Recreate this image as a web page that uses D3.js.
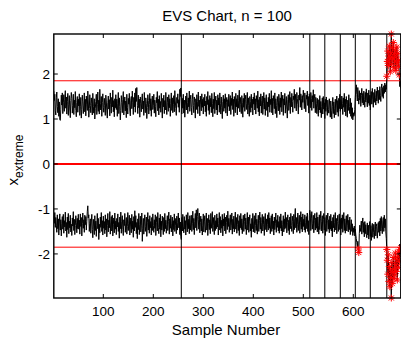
<!DOCTYPE html>
<html>
<head>
<meta charset="utf-8">
<script src="https://cdn.jsdelivr.net/npm/d3@7"></script>
<style>
  body { margin: 0; background: #fff; }
  text { font-family: "Liberation Sans", Arial, sans-serif; fill: #000; }
</style>
</head>
<body>
<script>
// Upper extreme per sample (sample number = index + 1)
const upperExtreme = [
  1.62, 1.41, 1.55, 1.18, 1.09, 1.47, 1.60, 1.28, 1.14, 1.45, 1.06, 1.38, 0.99, 0.97, 1.22, 1.53, 1.31, 1.58, 1.12, 1.36, 1.54, 1.17, 1.43, 1.63, 1.24,
  1.49, 1.11, 1.39, 1.57, 1.08, 1.33, 1.52, 1.20, 1.03, 1.41, 1.59, 1.46, 1.13, 1.30, 1.55, 1.10, 1.42, 1.25, 1.61, 1.19, 1.05, 1.37, 1.50, 1.15, 1.44,
  1.29, 1.56, 1.08, 1.27, 1.48, 1.02, 1.21, 1.53, 1.38, 1.12, 1.31, 1.58, 1.16, 1.44, 1.07, 1.51, 1.33, 1.19, 1.62, 1.40, 1.04, 1.23, 1.54, 1.30, 1.14,
  1.47, 1.35, 1.09, 1.57, 1.28, 1.13, 1.45, 1.00, 1.24, 1.39, 1.55, 1.10, 1.32, 1.60, 1.17, 1.42, 1.11, 1.66, 1.34, 1.20, 1.50, 1.06, 1.37, 1.56, 1.26,
  1.15, 1.46, 1.30, 1.08, 1.53, 1.40, 1.18, 1.02, 1.36, 1.51, 1.22, 1.43, 1.07, 1.58, 1.32, 1.13, 1.48, 1.27, 1.64, 1.16, 1.41, 1.05, 1.45, 1.25, 1.54,
  1.21, 1.44, 1.06, 1.35, 1.59, 1.12, 1.47, 1.28, 0.98, 1.19, 1.52, 1.37, 1.14, 1.43, 1.61, 1.09, 1.31, 1.49, 1.18, 1.40, 1.03, 1.55, 1.26, 1.11, 1.46,
  1.33, 1.57, 1.20, 1.07, 1.42, 1.50, 1.23, 1.62, 1.36, 1.10, 1.48, 1.27, 1.58, 1.15, 1.68, 1.39, 1.70, 1.30, 1.12, 1.53, 1.25, 1.44, 1.04, 1.49, 1.34,
  1.16, 1.43, 1.56, 1.22, 1.40, 1.08, 1.59, 1.29, 1.14, 1.47, 1.35, 1.01, 1.26, 1.54, 1.41, 1.11, 1.32, 1.57, 1.19, 1.45, 1.06, 1.38, 1.51, 1.21, 1.30,
  1.55, 1.13, 1.42, 1.28, 1.05, 1.48, 1.36, 1.61, 1.18, 1.44, 1.09, 1.52, 1.24, 1.39, 1.15, 1.57, 1.31, 1.02, 1.46, 1.27, 1.53, 1.12, 1.41, 1.20, 1.59,
  1.29, 1.10, 1.49, 1.37, 1.17, 1.54, 1.25, 1.45, 1.06, 1.34, 1.58, 1.19, 1.47, 1.14, 1.32, 1.52, 1.16, 1.63, 1.40, 1.23, 1.08, 1.48, 1.35, 1.56, 1.26,
  1.43, 1.15, 1.66, 1.50, 1.69, 1.38, 1.11, 1.46, 1.24, 1.55, 1.13, 1.42, 1.04, 1.31, 1.51, 1.20, 1.58, 1.36, 1.12, 1.47, 1.27, 1.62, 1.17, 1.43, 1.53,
  1.25, 1.09, 1.44, 1.57, 1.30, 1.14, 1.49, 1.37, 1.02, 1.45, 1.21, 1.54, 1.39, 1.12, 1.60, 1.28, 1.42, 1.07, 1.51, 1.33, 1.18, 1.56, 1.26, 1.44, 1.11,
  1.48, 1.29, 1.55, 1.16, 1.40, 1.06, 1.50, 1.32, 1.61, 1.19, 1.43, 1.10, 1.52, 1.27, 1.46, 1.14, 1.57, 1.35, 1.05, 1.44, 1.23, 1.59, 1.12, 1.38, 1.51,
  1.20, 1.42, 1.09, 1.54, 1.31, 1.47, 1.15, 1.58, 1.34, 1.11, 1.49, 1.26, 1.01, 1.39, 1.53, 1.17, 1.45, 1.24, 1.56, 1.13, 1.37, 1.48, 1.07, 1.43, 1.28,
  1.55, 1.18, 1.40, 1.52, 1.10, 1.46, 1.30, 1.60, 1.21, 1.44, 1.06, 1.50, 1.33, 1.14, 1.57, 1.27, 1.45, 1.09, 1.53, 1.24, 1.41, 1.64, 1.16, 1.48, 1.32,
  1.12, 1.52, 1.36, 1.04, 1.46, 1.26, 1.57, 1.17, 1.43, 1.53, 1.21, 1.34, 1.59, 1.11, 1.47, 1.30, 1.06, 1.50, 1.39, 1.15, 1.55, 1.25, 1.44, 1.09, 1.49,
  1.33, 1.58, 1.20, 1.45, 1.11, 1.52, 1.37, 1.24, 1.62, 1.16, 1.43, 1.07, 1.49, 1.29, 1.56, 1.13, 1.41, 1.51, 1.10, 1.35, 1.59, 1.22, 1.47, 1.08, 1.42,
  1.54, 1.19, 1.38, 1.05, 1.48, 1.27, 1.57, 1.15, 1.44, 1.32, 1.63, 1.14, 1.46, 1.09, 1.52, 1.39, 1.23, 1.58, 1.12, 1.45, 1.30, 1.03, 1.50, 1.36, 1.18,
  1.55, 1.42, 1.10, 1.47, 1.26, 1.60, 1.16, 1.40, 1.53, 1.08, 1.45, 1.31, 1.57, 1.13, 1.38, 1.50, 1.22, 1.02, 1.43, 1.54, 1.19, 1.35, 1.61, 1.12, 1.48,
  1.27, 1.57, 1.39, 1.15, 1.51, 1.43, 1.66, 1.24, 1.55, 1.40, 1.18, 1.59, 1.46, 1.33, 1.11, 1.53, 1.42, 1.70, 1.26, 1.56, 1.45, 1.20, 1.52, 1.37, 1.64,
  1.47, 1.23, 1.58, 1.40, 1.16, 1.53, 1.44, 1.62, 1.30, 1.50, 1.13, 1.56, 1.42, 1.25, 1.59, 1.46, 1.19, 1.52, 1.38, 1.65, 1.24, 1.45, 1.55, 1.14, 1.48,
  1.34, 1.12, 1.46, 1.25, 1.06, 1.43, 1.20, 1.52, 1.14, 1.39, 1.03, 1.28, 1.47, 1.11, 1.50, 1.22, 1.36, 1.01, 1.44, 1.17, 1.49, 1.26, 1.08, 1.42, 1.21,
  1.13, 1.45, 1.29, 1.04, 1.40, 1.18, 1.00, 1.27, 1.48, 1.12, 1.38, 1.03, 1.24, 1.44, 1.09, 1.31, 1.51, 1.15, 1.41, 1.06, 1.46, 1.23, 1.55, 1.17, 1.43,
  1.22, 1.51, 1.35, 1.10, 1.47, 1.26, 1.57, 1.16, 1.44, 1.07, 1.50, 1.32, 1.04, 1.42, 1.19, 1.54, 1.28, 1.12, 1.46, 1.06, 1.36, 1.01, 1.25, 0.98, 1.14,
  1.06, 1.09, 1.21, 1.48, 1.66, 1.76, 1.55, 1.40, 1.70, 1.48, 1.33, 1.63, 1.42, 1.58, 1.28, 1.52, 1.68, 1.36, 1.57, 1.31, 1.62, 1.43, 1.26, 1.59, 1.38,
  1.67, 1.41, 1.27, 1.58, 1.35, 1.64, 1.30, 1.53, 1.20, 1.45, 1.61, 1.33, 1.68, 1.44, 1.26, 1.59, 1.37, 1.66, 1.47, 1.31, 1.62, 1.40, 1.71, 1.49, 1.35,
  1.64, 1.43, 1.72, 1.52, 1.39, 1.68, 1.78, 1.50, 1.70, 1.46, 1.74, 1.57, 1.80, 1.60, 1.76, 1.66,
  1.95, 2.28, 2.51, 2.19, 2.40, 2.62, 2.33, 2.05, 2.47, 2.89, 2.22, 2.58, 2.36, 2.70, 2.14, 2.44, 2.29, 2.53, 2.08, 2.38, 2.60, 2.25, 2.46, 2.17, 2.31, 1.98,
  1.72, 1.84, 1.68
];

// Lower extreme per sample
const lowerExtreme = [
  -1.16, -1.32, -1.08, -1.41, -1.19, -1.36, -1.52, -1.13, -1.44, -1.22, -1.58, -1.29, -1.11, -1.47, -1.24, -1.60, -1.33, -1.17, -1.45, -1.12, -1.54, -1.26, -1.40, -1.07, -1.49,
  -1.30, -1.63, -1.18, -1.46, -1.10, -1.55, -1.27, -1.42, -1.14, -1.51, -1.34, -1.59, -1.20, -1.38, -1.06, -1.48, -1.23, -1.57, -1.37, -1.15, -1.31, -1.53, -1.21, -1.44, -1.12,
  -1.45, -1.25, -1.56, -1.11, -1.39, -1.19, -1.60, -1.33, -1.09, -1.43, -1.24, -1.52, -1.14, -1.35, -1.17, -1.47, -1.28, -1.05, -0.93, -1.20, -1.13, -1.50, -1.32, -1.22, -1.54,
  -1.29, -1.12, -1.46, -1.64, -1.23, -1.38, -1.57, -1.15, -1.48, -1.27, -1.61, -1.36, -1.10, -1.44, -1.21, -1.68, -1.34, -1.53, -1.18, -1.41, -1.08, -1.50, -1.26, -1.58, -1.16,
  -1.43, -1.28, -1.55, -1.13, -1.47, -1.22, -1.62, -1.37, -1.10, -1.51, -1.25, -1.42, -1.06, -1.56, -1.31, -1.17, -1.49, -1.14, -1.60, -1.35, -1.20, -1.53, -1.09, -1.45, -1.27,
  -1.57, -1.21, -1.40, -1.11, -1.50, -1.30, -1.65, -1.18, -1.44, -1.07, -1.54, -1.28, -1.15, -1.46, -1.59, -1.24, -1.37, -1.10, -1.52, -1.33, -1.19, -1.56, -1.39, -1.08, -1.48,
  -1.32, -1.14, -1.58, -1.38, -1.20, -1.53, -1.12, -1.45, -1.27, -1.63, -1.17, -1.49, -1.04, -1.41, -1.15, -1.55, -1.30, -1.66, -1.22, -1.46, -1.10, -1.57, -1.35, -1.16, -1.51,
  -1.36, -1.09, -1.72, -1.44, -1.21, -1.56, -1.29, -1.13, -1.50, -1.39, -1.18, -1.61, -1.31, -1.08, -1.47, -1.23, -1.54, -1.15, -1.42, -1.28, -1.58, -1.19, -1.48, -1.11, -1.37,
  -1.52, -1.24, -1.43, -1.13, -1.59, -1.30, -1.17, -1.49, -1.08, -1.41, -1.55, -1.20, -1.45, -1.12, -1.62, -1.27, -1.47, -1.16, -1.38, -1.57, -1.19, -1.50, -1.10, -1.44, -1.25,
  -1.54, -1.35, -1.15, -1.48, -1.28, -1.07, -1.56, -1.22, -1.43, -1.14, -1.51, -1.33, -1.18, -1.60, -1.26, -1.46, -1.11, -1.50, -1.37, -1.21, -1.55, -1.16, -1.47, -1.30, -1.09,
  -1.42, -1.20, -1.57, -1.29, -1.61, -1.68, -1.19, -1.49, -1.12, -1.40, -1.53, -1.17, -1.45, -1.26, -1.58, -1.13, -1.36, -1.51, -1.08, -1.44, -1.23, -1.55, -1.15, -1.47, -1.31,
  -1.14, -1.50, -1.33, -1.05, -1.46, -1.21, -1.57, -1.28, -1.10, -1.42, -1.02, -1.48, -1.17, -0.99, -1.24, -1.45, -1.09, -1.53, -1.30, -1.16, -1.49, -1.22, -1.58, -1.36, -1.11,
  -1.51, -1.27, -1.15, -1.52, -1.38, -1.09, -1.47, -1.21, -1.59, -1.33, -1.13, -1.46, -1.24, -1.55, -1.10, -1.43, -1.29, -1.06, -1.50, -1.19, -1.37, -1.57, -1.14, -1.48, -1.26,
  -1.44, -1.11, -1.40, -1.20, -1.58, -1.32, -1.08, -1.47, -1.17, -1.53, -1.25, -1.43, -1.12, -1.60, -1.22, -1.38, -1.10, -1.49, -1.18, -1.55, -1.30, -1.14, -1.46, -1.05, -1.39,
  -1.21, -1.52, -1.27, -1.13, -1.47, -1.36, -1.09, -1.56, -1.23, -1.44, -1.16, -1.51, -1.29, -1.07, -1.45, -1.19, -1.54, -1.34, -1.12, -1.48, -1.26, -1.59, -1.15, -1.42, -1.10,
  -1.46, -1.22, -1.55, -1.31, -1.14, -1.50, -1.28, -1.11, -1.45, -1.20, -1.57, -1.35, -1.08, -1.47, -1.18, -1.52, -1.27, -1.13, -1.49, -1.33, -1.63, -1.21, -1.44, -1.10, -1.51,
  -1.29, -1.15, -1.53, -1.37, -1.09, -1.48, -1.23, -1.56, -1.32, -1.14, -1.50, -1.26, -1.07, -1.45, -1.19, -1.54, -1.30, -1.12, -1.49, -1.35, -1.17, -1.59, -1.25, -1.10, -1.46,
  -1.22, -1.51, -1.34, -1.13, -1.47, -1.08, -1.43, -1.20, -1.55, -1.29, -1.15, -1.50, -1.11, -1.44, -1.27, -1.58, -1.18, -1.46, -1.33, -1.09, -1.52, -1.24, -1.41, -1.14, -1.49,
  -1.28, -1.54, -1.17, -1.43, -1.11, -1.49, -1.26, -1.60, -1.35, -1.15, -1.51, -1.22, -1.45, -1.07, -1.42, -1.19, -1.53, -1.30, -1.13, -1.48, -1.25, -1.57, -1.18, -1.44, -1.10,
  -1.37, -1.50, -1.16, -1.28, -1.55, -1.12, -1.46, -1.21, -0.99, -1.42, -1.19, -1.52, -1.34, -1.09, -1.48, -1.27, -1.14, -1.54, -1.31, -1.06, -1.45, -1.18, -1.51, -1.11, -1.39,
  -1.23, -1.47, -1.13, -1.52, -1.30, -1.17, -1.44, -1.09, -1.50, -1.26, -1.57, -1.15, -1.03, -1.11, -1.48, -1.22, -1.06, -1.45, -1.32, -1.14, -1.53, -1.25, -1.10, -1.47, -1.20,
  -1.43, -1.08, -1.51, -1.18, -1.36, -1.56, -1.13, -1.46, -1.22, -1.05, -1.49, -1.28, -1.15, -1.54, -1.24, -1.10, -1.47, -1.19, -1.59, -1.33, -1.14, -1.50, -1.26, -1.09, -1.45,
  -1.24, -1.53, -1.16, -1.45, -1.12, -1.49, -1.27, -1.62, -1.19, -1.42, -1.13, -1.51, -1.30, -1.08, -1.47, -1.21, -1.55, -1.28, -1.14, -1.50, -1.33, -1.11, -1.46, -1.23, -1.58,
  -1.20, -1.44, -1.13, -1.52, -1.29, -1.08, -1.48, -1.22, -1.54, -1.31, -1.15, -1.49, -1.36, -1.12, -1.51, -1.25, -1.46, -1.18, -1.57, -1.38, -1.24, -1.50, -1.33, -1.59, -1.42,
  -1.52, -1.38, -1.60, -1.45, -1.58, -1.66, -1.75, -1.84, -1.72, -1.89, -1.97, -1.55, -1.36, -1.50, -1.41, -1.27, -1.56, -1.33, -1.20, -1.52, -1.30, -1.62, -1.28, -1.55, -1.35,
  -1.57, -1.64, -1.31, -1.58, -1.36, -1.67, -1.40, -1.28, -1.61, -1.37, -1.70, -1.43, -1.32, -1.63, -1.52, -1.34, -1.66, -1.45, -1.29, -1.60, -1.39, -1.33, -1.65, -1.48, -1.30,
  -1.52, -1.27, -1.60, -1.21, -1.49, -1.17, -1.44, -1.55, -1.25, -1.19, -1.50, -1.14, -1.42, -1.22, -1.51, -1.66,
  -1.90, -2.14, -2.45, -2.02, -2.61, -2.28, -2.73, -2.36, -2.52, -2.98, -2.19, -2.66, -2.41, -2.08, -2.55, -2.33, -2.47, -1.98, -2.24, -2.39, -2.12, -2.58, -2.05, -2.30, -1.94, -2.17,
  -1.78, -1.91, -1.86
];

const limitLines = [1.85, 0, -1.85];
const splitSamples = [256, 513, 543, 574, 604, 634, 667];
const xTicks = [100, 200, 300, 400, 500, 600];
const yTicks = [-2, -1, 0, 1, 2];
const upperLimit = 1.85;

const width = 401;
const height = 343;
const plot = { left: 53.8, right: 400.8, top: 34, bottom: 298 };

const svg = d3.select('body')
  .append('svg')
  .attr('width', width)
  .attr('height', height);

const x = d3.scaleLinear()
  .domain([1, upperExtreme.length])
  .range([plot.left, plot.right]);

const y = d3.scaleLinear()
  .domain([-2.98, 2.89])
  .range([plot.bottom, plot.top]);

svg.append('clipPath').attr('id', 'clip')
  .append('rect')
  .attr('x', plot.left).attr('y', plot.top)
  .attr('width', plot.right - plot.left).attr('height', plot.bottom - plot.top);

const g = svg.append('g').attr('clip-path', 'url(#clip)');

// the two extreme series
const line = d3.line()
  .x((d, i) => x(i + 1))
  .y(d => y(d));

[upperExtreme, lowerExtreme].forEach(series => {
  g.append('path')
    .datum(series)
    .attr('d', line)
    .attr('fill', 'none')
    .attr('stroke', '#000')
    .attr('stroke-width', 1);
});

// limits and centre line
g.selectAll('.limit')
  .data(limitLines)
  .enter()
  .append('line')
  .attr('x1', plot.left).attr('x2', plot.right)
  .attr('y1', d => y(d)).attr('y2', d => y(d))
  .attr('stroke', '#ff0000')
  .attr('stroke-width', d => d === 0 ? 2 : 1);

// vertical split markers
g.selectAll('.split')
  .data(splitSamples)
  .enter()
  .append('line')
  .attr('x1', d => x(d)).attr('x2', d => x(d))
  .attr('y1', plot.top).attr('y2', plot.bottom)
  .attr('stroke', '#000')
  .attr('stroke-width', 1);

// out of limit points as red asterisks
const outPoints = [];
[upperExtreme, lowerExtreme].forEach(series => {
  series.forEach((v, i) => {
    if (Math.abs(v) > upperLimit) outPoints.push([i + 1, v]);
  });
});

const s = 3.5, a = 2.5;
const star = `M${-s},0H${s}M0,${-s}V${s}M${-a},${-a}L${a},${a}M${-a},${a}L${a},${-a}`;

svg.append('g')
  .selectAll('path')
  .data(outPoints)
  .enter()
  .append('path')
  .attr('transform', d => `translate(${x(d[0])},${y(d[1])})`)
  .attr('d', star)
  .attr('fill', 'none')
  .attr('stroke', '#ff0000')
  .attr('stroke-width', 1);

// axes box
const axis = svg.append('g')
  .attr('fill', 'none')
  .attr('stroke', '#000');

axis.append('rect')
  .attr('x', plot.left).attr('y', plot.top)
  .attr('width', plot.right - plot.left).attr('height', plot.bottom - plot.top)
  .attr('stroke-width', 1.4);

const tickLen = 4;
xTicks.forEach(t => {
  axis.append('line')
    .attr('x1', x(t)).attr('x2', x(t))
    .attr('y1', plot.bottom).attr('y2', plot.bottom - tickLen);
  axis.append('line')
    .attr('x1', x(t)).attr('x2', x(t))
    .attr('y1', plot.top).attr('y2', plot.top + tickLen);
});
yTicks.forEach(t => {
  axis.append('line')
    .attr('x1', plot.left).attr('x2', plot.left + tickLen)
    .attr('y1', y(t)).attr('y2', y(t));
  axis.append('line')
    .attr('x1', plot.right).attr('x2', plot.right - tickLen)
    .attr('y1', y(t)).attr('y2', y(t));
});

// tick labels
svg.selectAll('.xlab')
  .data(xTicks)
  .enter()
  .append('text')
  .attr('x', d => x(d))
  .attr('y', 316)
  .attr('text-anchor', 'middle')
  .style('font-size', '13.5px')
  .text(d => d);

svg.selectAll('.ylab')
  .data(yTicks)
  .enter()
  .append('text')
  .attr('x', 50)
  .attr('y', d => y(d) + 5)
  .attr('text-anchor', 'end')
  .style('font-size', '13.5px')
  .text(d => d);

// titles
svg.append('text')
  .attr('x', 227)
  .attr('y', 21)
  .attr('text-anchor', 'middle')
  .style('font-size', '15px')
  .text('EVS Chart, n = 100');

svg.append('text')
  .attr('x', 226)
  .attr('y', 335)
  .attr('text-anchor', 'middle')
  .style('font-size', '15px')
  .text('Sample Number');

const ylab = svg.append('text')
  .attr('transform', 'translate(18,160) rotate(-90)')
  .attr('text-anchor', 'middle')
  .style('font-size', '15px');
ylab.append('tspan').text('x');
ylab.append('tspan')
  .attr('dy', 5)
  .style('font-size', '12px')
  .text('extreme');
</script>
</body>
</html>
